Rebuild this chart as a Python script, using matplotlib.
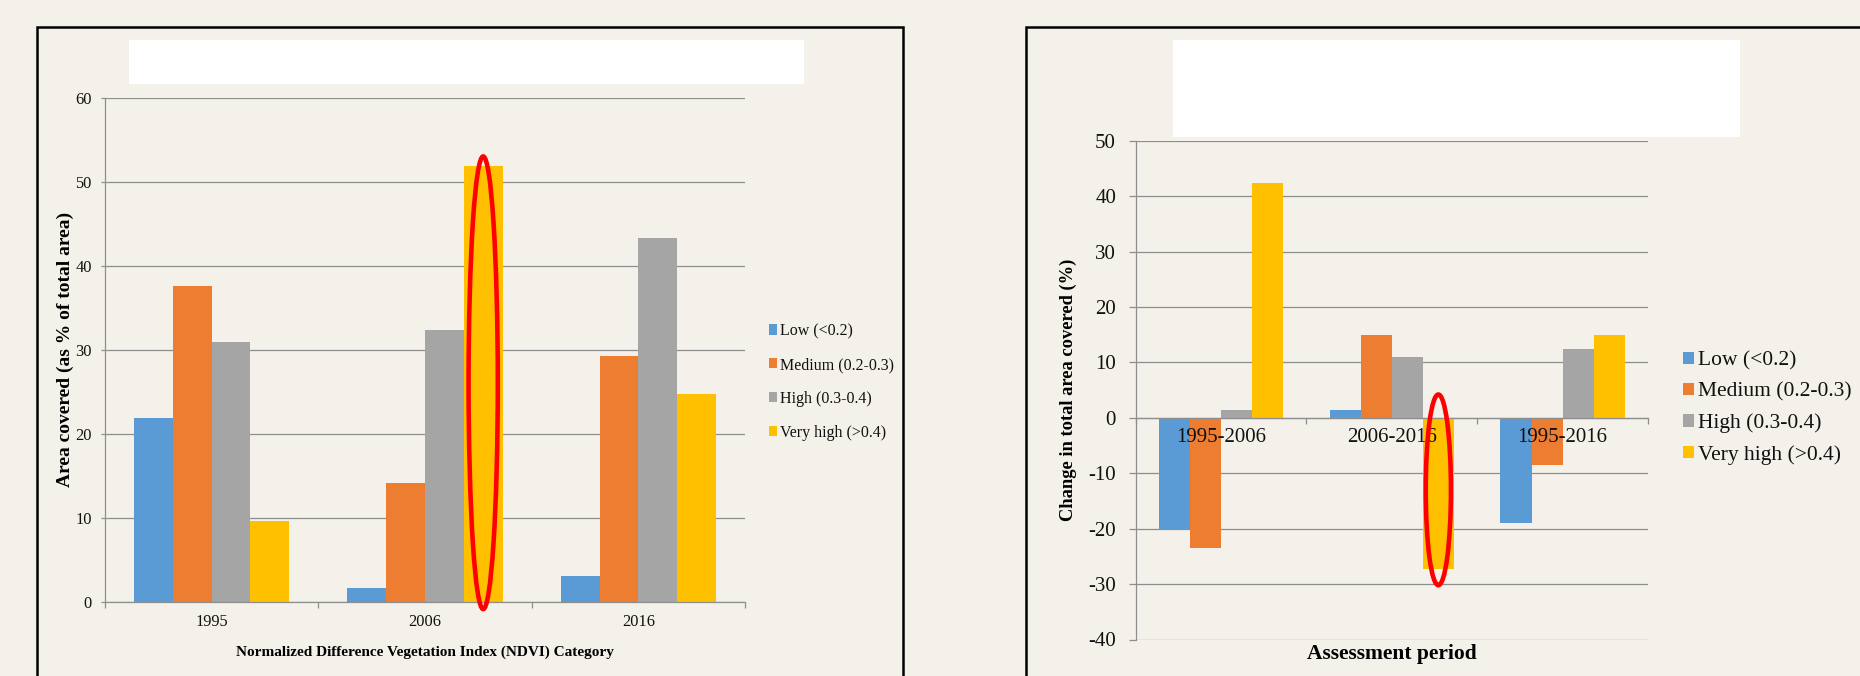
import matplotlib

matplotlib.use("Agg")

import matplotlib.pyplot as plt
import numpy as np
from matplotlib.patches import Ellipse, Rectangle


FIG_W, FIG_H, DPI = 1860, 676, 100

BACKGROUND = "#F3F1E9"
GRID_COLOR = "#8E8E8E"
TEXT_COLOR = "#111111"
BAR_COLORS = ["#5B9BD5", "#ED7D31", "#A5A5A5", "#FFC000"]

plt.rcParams["font.family"] = ["Liberation Serif", "DejaVu Serif"]
plt.rcParams["axes.unicode_minus"] = False

ndvi_classes = ["Low (<0.2)", "Medium (0.2-0.3)", "High (0.3-0.4)", "Very high (>0.4)"]

# area covered by each NDVI class, % of total area
years = ["1995", "2006", "2016"]
low_cover = [21.9, 1.6, 3.0]
medium_cover = [37.6, 14.1, 29.2]
high_cover = [30.9, 32.3, 43.3]
very_high_cover = [9.6, 51.9, 24.7]

# change in area covered between assessment years, %
periods = ["1995-2006", "2006-2016", "1995-2016"]
low_change = [-20.2, 1.4, -18.9]
medium_change = [-23.5, 15.0, -8.5]
high_change = [1.4, 11.0, 12.4]
very_high_change = [42.4, -27.2, 15.0]

BAR_WIDTH = 1 / 5.5  # four bars plus a 150% gap per category


def px_box(x0, y0, x1, y1):
    """Pixel box (y measured from the top) -> figure fraction rect."""
    return [x0 / FIG_W, 1 - y1 / FIG_H, (x1 - x0) / FIG_W, (y1 - y0) / FIG_H]


def draw_grouped_bars(ax, categories, series):
    x = np.arange(len(categories))
    for i, (values, color, label) in enumerate(zip(series, BAR_COLORS, ndvi_classes)):
        ax.bar(x + (i - 1.5) * BAR_WIDTH, values, BAR_WIDTH, color=color,
               label=label, linewidth=0, zorder=2)
    ax.set_xlim(-0.5, len(categories) - 0.5)
    ax.set_xticks(x)
    ax.set_xticklabels(categories)
    ax.set_xticks(np.arange(len(categories) + 1) - 0.5, minor=True)


def style_axes(ax, y_min, y_max, tick_font, tick_len, tick_pad):
    ax.set_facecolor("none")
    ax.set_ylim(y_min, y_max)
    ticks = np.arange(y_min, y_max + 1, 10)
    ax.set_yticks(ticks)
    # gridlines sit under the bars, while the axis (and its labels) stays on top
    for value in ticks:
        ax.axhline(value, color=GRID_COLOR, linewidth=0.9, zorder=1)
    ax.set_axisbelow(False)
    for side in ("top", "right"):
        ax.spines[side].set_visible(False)
    for side in ("left", "bottom"):
        ax.spines[side].set_color(GRID_COLOR)
        ax.spines[side].set_linewidth(0.9)
    ax.tick_params(axis="y", length=tick_len, width=0.9, color=GRID_COLOR,
                   pad=tick_pad, labelsize=tick_font, labelcolor=TEXT_COLOR)
    ax.tick_params(axis="x", which="major", length=0, labelsize=tick_font,
                   labelcolor=TEXT_COLOR)
    ax.tick_params(axis="x", which="minor", length=4.5, width=0.9,
                   color=GRID_COLOR)


def highlight_bar(ax, category, y_low, y_high, width):
    x_center = category + 1.5 * BAR_WIDTH
    ax.add_patch(Ellipse((x_center, (y_low + y_high) / 2), width, abs(y_high - y_low),
                         fill=False, edgecolor="#FF0000", linewidth=3.3,
                         zorder=5, clip_on=False))


def add_panel_frame(fig, x0, y0, x1, y1, header):
    fig.add_artist(Rectangle((x0 / FIG_W, 1 - y1 / FIG_H), (x1 - x0) / FIG_W,
                             (y1 - y0) / FIG_H, transform=fig.transFigure,
                             fill=False, edgecolor="black", linewidth=1.8))
    hx0, hy0, hx1, hy1 = header
    fig.add_artist(Rectangle((hx0 / FIG_W, 1 - hy1 / FIG_H), (hx1 - hx0) / FIG_W,
                             (hy1 - hy0) / FIG_H, transform=fig.transFigure,
                             facecolor="white", edgecolor="none"))


def add_legend(fig, ax, x, y, font_size, handle_w, handle_h, spacing):
    legend = fig.legend(*ax.get_legend_handles_labels(), loc="center left",
                        bbox_to_anchor=(x / FIG_W, 1 - y / FIG_H),
                        bbox_transform=fig.transFigure, frameon=False,
                        prop={"size": font_size},
                        handlelength=handle_w, handleheight=handle_h,
                        handletextpad=0.2, labelspacing=spacing,
                        borderpad=0, borderaxespad=0)
    for text in legend.get_texts():
        text.set_color(TEXT_COLOR)
    return legend


def build_cover_panel(fig):
    ax = fig.add_axes(px_box(105, 97.7, 745, 601.5))
    draw_grouped_bars(ax, years, [low_cover, medium_cover, high_cover, very_high_cover])
    style_axes(ax, 0, 60, tick_font=11.8, tick_len=3, tick_pad=6.5)
    ax.tick_params(axis="x", which="major", pad=9)
    ax.set_xlabel("Normalized Difference Vegetation Index (NDVI) Category",
                  fontsize=11, fontweight="bold", va="center")
    ax.xaxis.set_label_coords(0.5, -0.1)
    ax.set_ylabel("Area covered (as % of total area)", fontsize=14,
                  fontweight="bold", va="center")
    ax.yaxis.set_label_coords(-0.0625, 0.5)
    highlight_bar(ax, 1, -0.9, 53.0, 0.137)
    add_legend(fig, ax, 769, 382, 11.5, 0.5, 0.6, 1.12)


def build_change_panel(fig):
    ax = fig.add_axes(px_box(1135.5, 140.7, 1648, 639.5))
    draw_grouped_bars(ax, periods, [low_change, medium_change, high_change, very_high_change])
    style_axes(ax, -40, 50, tick_font=15, tick_len=5, tick_pad=9)
    ax.spines["bottom"].set_position(("data", 0))
    ax.tick_params(axis="x", which="major", pad=7)
    ax.set_xlabel("Assessment period", fontsize=15.5, fontweight="bold", va="center")
    ax.xaxis.set_label_coords(0.5, -0.029)
    ax.set_ylabel("Change in total area covered (%)", fontsize=13.3,
                  fontweight="bold", va="center")
    ax.yaxis.set_label_coords(-0.1317, 0.5)
    highlight_bar(ax, 1, 4.2, -30.2, 0.1475)
    add_legend(fig, ax, 1683, 408, 15.5, 0.5, 0.5, 0.55)


def main() -> None:
    fig = plt.figure(figsize=(FIG_W / DPI, FIG_H / DPI), dpi=DPI, facecolor=BACKGROUND)
    add_panel_frame(fig, 37, 27, 903, 720, header=(129, 40, 804, 84))
    add_panel_frame(fig, 1026, 27, 1920, 720, header=(1173, 40, 1740, 137))
    build_cover_panel(fig)
    build_change_panel(fig)
    fig.savefig("out.png", dpi=DPI, facecolor=BACKGROUND)
    plt.close(fig)


if __name__ == "__main__":
    main()
